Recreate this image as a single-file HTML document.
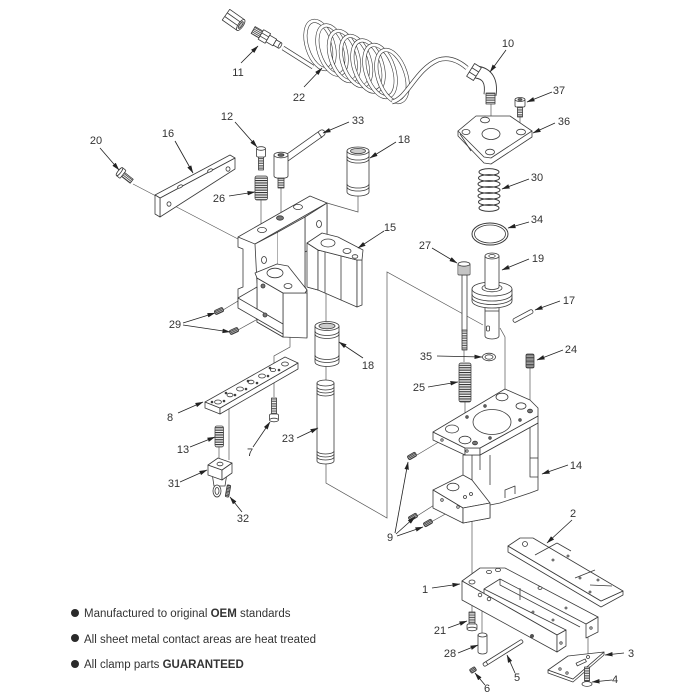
<!DOCTYPE html>
<html><head><meta charset="utf-8"><style>
html,body{margin:0;padding:0;background:#fff;}
svg{display:block}
text{font-family:"Liberation Sans",Arial,sans-serif;fill:#333;}
</style></head><body>
<svg width="700" height="700" viewBox="0 0 700 700" xmlns="http://www.w3.org/2000/svg">
<defs>
<marker id="ah" viewBox="0 0 10 10" refX="9.5" refY="5" markerWidth="8" markerHeight="8" orient="auto" markerUnits="userSpaceOnUse">
<path d="M0,2.2 L10,5 L0,7.8 z" fill="#222"/></marker>
<pattern id="th" width="6" height="1.7" patternUnits="userSpaceOnUse"><rect width="6" height="1.7" fill="#fff"/><rect width="6" height="0.8" fill="#444"/></pattern>
<pattern id="thd" width="6" height="1.4" patternUnits="userSpaceOnUse"><rect width="6" height="1.4" fill="#ddd"/><rect width="6" height="0.8" fill="#333"/></pattern>
<pattern id="spr" width="6" height="2.4" patternUnits="userSpaceOnUse"><rect width="6" height="2.4" fill="#f4f4f4"/><rect width="6" height="1.1" fill="#333"/></pattern>
</defs>
<rect width="700" height="700" fill="#fff"/>

<g fill="none" stroke="#555" stroke-width="0.7">
<path d="M169,203 L238,239"/>
<path d="M133,184 L156,196"/>
<path d="M261,200 L261,228"/>
<path d="M281,187 L281,216"/>
<path d="M358,193 L358,212 L327,203"/>
<path d="M326,293 L326,322"/>
<path d="M326,364 L326,380"/>
<path d="M326,463 L326,483 L387,518 L387,272 L483,325"/>
<path d="M290,336 L290,347 L274,356 L274,368"/>
<path d="M274,370 L274,397"/>
<path d="M229,409 L229,460"/>
<path d="M219,447 L219,459"/>
<path d="M223,310 L263,286"/>
<path d="M238,330 L265,315"/>
<path d="M491,104 L491,133"/>
<path d="M520,117 L520,133"/>
<path d="M465,402 L465,439"/>
<path d="M500,328 L505,337 L505,398"/>
<path d="M530,368 L530,406"/>
<path d="M472,520 L472,582"/>
<path d="M472,600 L472,612"/>
<path d="M482,603 L482,633"/>
<path d="M588,633 L588,657"/>
<path d="M587,659 L587,667"/>
<path d="M417,455 L442,440"/>
<path d="M417,516 L442,500"/>
<path d="M431,522 L458,507"/>
<path d="M464,350 L464,362"/>
</g>

<g fill="#fff" stroke="#3a3a3a" stroke-width="0.8" stroke-linejoin="round">

<g transform="translate(235,21) rotate(35)">
<rect x="-11" y="-6.5" width="18" height="13"/>
<line x1="-11" y1="-2.2" x2="7" y2="-2.2"/><line x1="-11" y1="2.2" x2="7" y2="2.2"/>
<ellipse cx="7" cy="0" rx="2.5" ry="6.5"/><ellipse cx="7" cy="0" rx="1.3" ry="4" fill="#bbb"/>
</g>
<g transform="translate(267,38) rotate(30)">
<rect x="-16" y="-4" width="9" height="8" fill="url(#th)"/>
<rect x="-7" y="-5.5" width="8" height="11"/>
<line x1="-7" y1="-1.8" x2="1" y2="-1.8"/><line x1="-7" y1="1.8" x2="1" y2="1.8"/>
<rect x="1" y="-3.8" width="8" height="7.6"/>
<rect x="9" y="-3" width="6" height="6"/>
<ellipse cx="15" cy="0" rx="1.2" ry="3"/>
</g>

<g fill="none">
<path d="M283,48 L313,67" stroke="#3a3a3a" stroke-width="4.6"/>
<path d="M283,48 L313,67" stroke="#fff" stroke-width="3.2"/>
<g stroke-width="4">
<ellipse cx="320" cy="45" rx="13" ry="25" transform="rotate(-18 320 45)" stroke="#3a3a3a"/>
<ellipse cx="320" cy="45" rx="13" ry="25" transform="rotate(-18 320 45)" stroke="#fff" stroke-width="2.8"/>
<ellipse cx="332" cy="50" rx="13" ry="25.5" transform="rotate(-18 332 50)" stroke="#3a3a3a"/>
<ellipse cx="332" cy="50" rx="13" ry="25.5" transform="rotate(-18 332 50)" stroke="#fff" stroke-width="2.8"/>
<ellipse cx="344" cy="56" rx="13.5" ry="26" transform="rotate(-18 344 56)" stroke="#3a3a3a"/>
<ellipse cx="344" cy="56" rx="13.5" ry="26" transform="rotate(-18 344 56)" stroke="#fff" stroke-width="2.8"/>
<ellipse cx="356" cy="61" rx="13.5" ry="26" transform="rotate(-18 356 61)" stroke="#3a3a3a"/>
<ellipse cx="356" cy="61" rx="13.5" ry="26" transform="rotate(-18 356 61)" stroke="#fff" stroke-width="2.8"/>
<ellipse cx="368" cy="66" rx="14" ry="26.5" transform="rotate(-18 368 66)" stroke="#3a3a3a"/>
<ellipse cx="368" cy="66" rx="14" ry="26.5" transform="rotate(-18 368 66)" stroke="#fff" stroke-width="2.8"/>
<ellipse cx="380" cy="71" rx="14" ry="27" transform="rotate(-18 380 71)" stroke="#3a3a3a"/>
<ellipse cx="380" cy="71" rx="14" ry="27" transform="rotate(-18 380 71)" stroke="#fff" stroke-width="2.8"/>
<ellipse cx="392" cy="76" rx="14" ry="27" transform="rotate(-18 392 76)" stroke="#3a3a3a"/>
<ellipse cx="392" cy="76" rx="14" ry="27" transform="rotate(-18 392 76)" stroke="#fff" stroke-width="2.8"/>
</g>
<path d="M392,102 C408,98 415,70 438,60 C450,56 460,62 467,68" stroke="#3a3a3a" stroke-width="4.6"/>
<path d="M392,102 C408,98 415,70 438,60 C450,56 460,62 467,68" stroke="#fff" stroke-width="3.2"/>
</g>

<path d="M476,72 Q493,74 490,95" fill="none" stroke="#3a3a3a" stroke-width="13"/>
<path d="M476,72 Q493,74 490,95" fill="none" stroke="#fff" stroke-width="11.2"/>
<g transform="translate(474,72) rotate(32)">
<rect x="-4" y="-7.5" width="8" height="15"/>
<line x1="-4" y1="-2.5" x2="4" y2="-2.5"/><line x1="-4" y1="2.5" x2="4" y2="2.5"/>
</g>
<rect x="486" y="93" width="9" height="11" fill="url(#th)"/>

<rect x="515" y="99" width="10" height="8" rx="1.5"/>
<ellipse cx="520" cy="99.5" rx="5" ry="2"/>
<ellipse cx="520" cy="99.5" rx="2" ry="1" fill="#666"/>
<rect x="517.5" y="107" width="5" height="10" fill="url(#th)"/>

<path d="M458,131 L458,136 L484,163 L491,164 L532,137 L532,131 Z"/>
<path d="M458,131 L476,116 L510,116 L532,131 L491,158 L484,157 Z"/>
<path d="M460,134 L471,151" fill="none"/>
<ellipse cx="485" cy="120" rx="4.5" ry="2.8"/>
<ellipse cx="521" cy="132" rx="4.5" ry="2.8"/>
<ellipse cx="490" cy="152" rx="4.5" ry="2.8"/>
<ellipse cx="466" cy="132" rx="4" ry="2.6"/>
<ellipse cx="491" cy="134" rx="9" ry="5.5"/>

<g fill="none" stroke="#3a3a3a" stroke-width="1">
<ellipse cx="489" cy="172" rx="10" ry="3.4"/>
<ellipse cx="489" cy="178" rx="10.5" ry="3.4"/>
<ellipse cx="489" cy="184" rx="11" ry="3.4"/>
<ellipse cx="489" cy="190" rx="11" ry="3.4"/>
<ellipse cx="489" cy="196" rx="11" ry="3.4"/>
<ellipse cx="489" cy="202" rx="10.5" ry="3.4"/>
<ellipse cx="489" cy="208" rx="10" ry="3.4"/>
</g>

<ellipse cx="490" cy="234" rx="18" ry="11" fill="none" stroke-width="1"/>
<ellipse cx="490" cy="234" rx="15.5" ry="9" fill="none"/>

<path d="M485,305 L485,336 A7,3 0 0 0 499,336 L499,305 Z"/>
<line x1="485" y1="311" x2="499" y2="311"/>
<rect x="486.5" y="326" width="3" height="5" rx="1"/>
<path d="M472,289 L472,301 A20,7 0 0 0 512,301 L512,289 Z"/>
<path d="M472,294 A20,7 0 0 0 512,294" fill="none"/>
<path d="M472,297.5 A20,7 0 0 0 512,297.5" fill="none"/>
<ellipse cx="492" cy="289" rx="20" ry="7"/>
<ellipse cx="492" cy="288" rx="10" ry="3.8"/>
<path d="M485,256 L485,287 A7,2.5 0 0 0 499,287 L499,256 Z"/>
<ellipse cx="492" cy="256" rx="7" ry="3"/>
<ellipse cx="492" cy="256" rx="3.2" ry="1.5"/>

<g transform="translate(523,316) rotate(-28)">
<rect x="-11" y="-2" width="22" height="4" rx="1.8"/>
</g>

<rect x="462" y="275" width="5" height="56"/>
<rect x="462" y="330" width="5" height="20" fill="url(#th)"/>
<rect x="458" y="264" width="12" height="11" rx="1"/>
<ellipse cx="464" cy="264" rx="6" ry="2.2"/>
<g stroke-width="0.6"><line x1="460" y1="266" x2="460" y2="275"/><line x1="462" y1="266" x2="462" y2="275"/><line x1="464" y1="266" x2="464" y2="275"/><line x1="466" y1="266" x2="466" y2="275"/><line x1="468" y1="266" x2="468" y2="275"/></g>

<ellipse cx="489" cy="357" rx="6.5" ry="3.8"/>
<ellipse cx="489" cy="357" rx="4" ry="2.2"/>

<rect x="459" y="363" width="12" height="39" rx="2" fill="url(#spr)" stroke="#444"/>

<rect x="526" y="354" width="8" height="14" rx="1.5" fill="url(#thd)"/>

<path d="M480,455 L538,423 L538,490 L530,493 L500,503 L490,505 L490,518 L463,523 L463,455 Z"/>
<path d="M530,423 L530,477 L538,477" fill="none"/>
<path d="M530,458 L538,458" fill="none"/>
<path d="M472,455 L472,480 M480,455 L480,470 M490,455 L490,485" fill="none"/>
<path d="M505,498 L505,490 L515,486 L515,494" fill="none"/>
<path d="M433,490 L463,475 L472,480 L490,503 L463,508 Z"/>
<path d="M433,490 L463,508 L463,523 L433,508 Z"/>
<path d="M463,508 L490,503 L490,518 L463,523 Z"/>
<ellipse cx="453" cy="487" rx="6" ry="3.8"/>
<circle cx="465" cy="497" r="1.5"/><circle cx="471" cy="494" r="1.5"/>
<circle cx="442" cy="500" r="1.3"/><circle cx="458" cy="507" r="1.3"/>
<path d="M433,432 L465,448 L465,455 L433,440 Z"/>
<path d="M465,448 L480,448 L480,455 L465,455 Z"/>
<path d="M480,448 L538,416 L538,423 L480,455 Z"/>
<path d="M433,432 L505,389 L530,400 L538,408 L538,416 L480,448 L465,448 Z"/>
<ellipse cx="492" cy="422" rx="19" ry="12.5"/>
<ellipse cx="452" cy="429" rx="6.5" ry="4"/>
<ellipse cx="465" cy="440" rx="6" ry="3.8"/>
<ellipse cx="502" cy="397" rx="6" ry="3.8"/>
<ellipse cx="521" cy="406" rx="5" ry="3.2"/>
<ellipse cx="530" cy="411" rx="2.5" ry="1.8" fill="#777"/>
<ellipse cx="475" cy="443" rx="2.5" ry="1.8" fill="#777"/>
<circle cx="485" cy="406" r="1.3" fill="#777"/>
<circle cx="467" cy="417" r="1.3" fill="#777"/>
<circle cx="520" cy="420" r="1.3" fill="#777"/>
<circle cx="490" cy="438" r="1.3" fill="#777"/>
<circle cx="442" cy="440" r="1.2"/>
<circle cx="467" cy="451" r="1.2"/>

<g transform="translate(412,456) rotate(-30)"><rect x="-4.5" y="-2.2" width="9" height="4.4" rx="1.5" fill="url(#thd)"/></g>
<g transform="translate(413,517) rotate(-30)"><rect x="-4.5" y="-2.2" width="9" height="4.4" rx="1.5" fill="url(#thd)"/></g>
<g transform="translate(428,523) rotate(-30)"><rect x="-4.5" y="-2.2" width="9" height="4.4" rx="1.5" fill="url(#thd)"/></g>

<path d="M508,546 L508,552 L601,607 L623,595 L623,591 L601,601 Z"/>
<path d="M508,546 L520,538 L533,538 L623,591 L601,601 Z"/>
<circle cx="525" cy="544" r="2.5"/>
<path d="M535,555 L557,543 M557,543 L571,551 M575,578 L595,570 M590,585 L612,586" fill="none"/>
<circle cx="553" cy="560" r="1"/><circle cx="568" cy="556" r="1"/><circle cx="580" cy="578" r="1"/><circle cx="598" cy="580" r="1"/><circle cx="590" cy="592" r="1"/>

<path d="M586,624 L598,617 L598,632 L586,638 Z"/>
<path d="M462,581 L480,568 L505,568 L598,617 L586,624 L500,579 L484,589 L566,630 L557,635 Z"/>
<path d="M500,579 L500,585 L580,627 M484,589 L484,595" fill="none"/>
<path d="M462,581 L557,635 L557,652 L462,600 Z"/>
<path d="M557,635 L566,630 L566,646 L557,652 Z"/>
<ellipse cx="472" cy="582" rx="3" ry="2"/>
<ellipse cx="489" cy="572" rx="2.5" ry="1.6"/>
<ellipse cx="498" cy="570" rx="2.5" ry="1.6"/>
<ellipse cx="540" cy="588" rx="2" ry="1.4"/>
<circle cx="480" cy="595" r="1.8"/><circle cx="489" cy="599" r="1.8"/>
<circle cx="561" cy="643" r="1.2"/><circle cx="591" cy="628" r="1.2"/>
<circle cx="533" cy="612" r="1"/><circle cx="553" cy="620" r="1"/><circle cx="566" cy="608" r="1"/>
<line x1="520" y1="588" x2="520" y2="600"/>

<rect x="469" y="612" width="6" height="12" fill="url(#th)"/>
<rect x="467" y="624" width="10" height="5" rx="1.5"/>
<ellipse cx="472" cy="629" rx="5" ry="1.8"/>
<path d="M478,635 L478,652 A4.5,2 0 0 0 487,652 L487,635 Z"/>
<ellipse cx="482.5" cy="635" rx="4.5" ry="2"/>
<g transform="translate(503,653) rotate(-32)"><rect x="-23" y="-1.8" width="46" height="3.6" rx="1.5"/><line x1="-19" y1="-1.8" x2="-19" y2="1.8"/></g>
<circle cx="532" cy="636" r="1.5" fill="#555"/>
<g transform="translate(473,670) rotate(-32)"><rect x="-3" y="-2.2" width="6" height="4.4" rx="1.2" fill="url(#thd)"/></g>
<path d="M548,670 L548,673 L573,682 L604,655 L604,652 L573,679 Z"/>
<path d="M548,670 L568,656 L604,652 L573,679 Z"/>
<circle cx="588" cy="657" r="1.5"/><circle cx="560" cy="669" r="1.2"/><circle cx="567" cy="673" r="1.2"/>
<rect x="576" y="661" width="10" height="3" transform="rotate(-25 581 662)"/>
<rect x="584.5" y="667" width="5" height="14" fill="url(#th)"/>
<ellipse cx="587" cy="684" rx="5" ry="2.4"/>

<path d="M160,198 L235,158 L235,169 L160,217 Z"/>
<path d="M155,195 L230,155 L235,158 L160,198 Z"/>
<path d="M155,195 L160,198 L160,217 L155,214 Z"/>
<ellipse cx="169" cy="204" rx="2" ry="2.2"/>
<ellipse cx="228" cy="169" rx="2" ry="2.2"/>
<ellipse cx="180" cy="186.5" rx="2.6" ry="1.3" transform="rotate(-28 180 186.5)"/>
<ellipse cx="210" cy="170.5" rx="2.6" ry="1.3" transform="rotate(-28 210 170.5)"/>

<g transform="translate(125,176) rotate(38)">
<rect x="-2.5" y="-2.5" width="11" height="5" fill="url(#th)"/>
<rect x="-7" y="-5" width="4.5" height="10" rx="1"/>
<ellipse cx="-7" cy="0" rx="1.5" ry="5"/>
</g>

<rect x="258.5" y="157" width="5" height="13" fill="url(#th)"/>
<rect x="256.5" y="148" width="9" height="9" rx="1.5"/>
<ellipse cx="261" cy="148.5" rx="4.5" ry="1.8"/>
<rect x="255" y="176" width="12.5" height="24" rx="2" fill="url(#spr)" stroke="#444"/>

<path d="M284,160 L322,133" fill="none" stroke="#3a3a3a" stroke-width="7" stroke-linecap="round"/>
<path d="M284,160 L322,133" fill="none" stroke="#fff" stroke-width="5.4" stroke-linecap="round"/>
<line x1="318" y1="132" x2="322" y2="138"/>
<path d="M274,155 L274,176 A7,2.5 0 0 0 288,176 L288,155 Z"/>
<ellipse cx="281" cy="155" rx="7" ry="2.8"/>
<ellipse cx="281" cy="155" rx="3" ry="1.3" fill="#666"/>
<rect x="278" y="178" width="6" height="10" fill="url(#th)"/>

<path d="M347,151 L347,192 A11,4 0 0 0 369,192 L369,151 Z"/>
<path d="M347,156 A11,4 0 0 0 369,156 M347,159 A11,4 0 0 0 369,159 M347,184 A11,4 0 0 0 369,184 M347,187 A11,4 0 0 0 369,187" fill="none"/>
<ellipse cx="358" cy="151" rx="11" ry="4"/>
<ellipse cx="358" cy="151" rx="7.5" ry="2.6" fill="#ccc"/>

<path d="M238,237 L238,247 L243,249 L243,287 L238,289 L238,298 L283,324 L283,337 L307,337 L307,290 L305,287 L305,217 L327,205 L327,235 L318,250 L318,290 L307,287" fill="none"/>
<path d="M238,237 L310,196 L327,203 L255,244 Z"/>
<path d="M255,244 L278,232 L278,273 L257,283 Z"/>
<path d="M305,217 L327,203 L327,240 L305,252 Z"/>
<path d="M278,232 L305,217 L305,287 L278,273"/>
<ellipse cx="262" cy="230" rx="4.5" ry="2.6"/>
<ellipse cx="280" cy="218" rx="3.5" ry="2.2" fill="#777"/>
<ellipse cx="298" cy="207" rx="4.5" ry="2.6"/>
<ellipse cx="264" cy="260" rx="2.5" ry="3.5"/>
<ellipse cx="319" cy="224" rx="2.5" ry="3.5"/>
<path d="M283,293 L307,293 L307,338 L283,337 Z"/>
<path d="M257,278 L283,293 L283,337 L257,322 Z"/>
<path d="M255,273 L277,264 L288,266 L307,290 L305,293 L283,293 L257,278 Z"/>
<ellipse cx="275" cy="273" rx="8" ry="4.8"/>
<ellipse cx="288" cy="286" rx="4" ry="2.5"/>
<path d="M238,298 L257,287 L257,322 L283,337 L283,330 L238,305 Z"/>
<path d="M238,298 L283,324 L283,334 L238,308 Z"/>
<circle cx="263" cy="286" r="2" fill="#777"/>
<circle cx="265" cy="315" r="2" fill="#777"/>
<path d="M307,243 L318,250 L318,290 L307,287 Z"/>
<path d="M318,250 L357,260 L357,307 L318,290 Z"/>
<path d="M357,260 L362,260 L362,305 L357,307 Z"/>
<path d="M307,243 L322,233 L338,237 L363,250 L362,260 L357,260 L318,250 Z"/>
<line x1="325" y1="252" x2="325" y2="293"/>
<line x1="341" y1="256" x2="341" y2="300"/>
<ellipse cx="328" cy="243" rx="7" ry="4"/>
<ellipse cx="347" cy="251" rx="4" ry="2.5"/>
<ellipse cx="355" cy="256.5" rx="2.8" ry="1.8"/>

<g transform="translate(219,311) rotate(-25)"><rect x="-4.5" y="-2.2" width="9" height="4.4" rx="1.5" fill="url(#thd)"/></g>
<g transform="translate(234,331) rotate(-25)"><rect x="-4.5" y="-2.2" width="9" height="4.4" rx="1.5" fill="url(#thd)"/></g>

<path d="M315,326 L315,362 A12,4.5 0 0 0 339,362 L339,326 Z"/>
<path d="M315,331 A12,4.5 0 0 0 339,331 M315,334 A12,4.5 0 0 0 339,334 M315,355 A12,4.5 0 0 0 339,355 M315,358 A12,4.5 0 0 0 339,358" fill="none"/>
<ellipse cx="327" cy="326" rx="12" ry="4.5"/>
<ellipse cx="327" cy="326" rx="8" ry="2.8" fill="#ccc"/>

<path d="M317,383 L317,461 A8.5,3 0 0 0 334,461 L334,383 Z"/>
<path d="M317,387 A8.5,3 0 0 0 334,387 M317,390 A8.5,3 0 0 0 334,390 M317,393 A8.5,3 0 0 0 334,393 M317,451 A8.5,3 0 0 0 334,451 M317,454 A8.5,3 0 0 0 334,454 M317,457 A8.5,3 0 0 0 334,457" fill="none"/>
<ellipse cx="325.5" cy="383" rx="8.5" ry="3"/>

<path d="M205,402 L220,408 L220,414 L205,408 Z"/>
<path d="M220,408 L298,363 L298,369 L220,414 Z"/>
<path d="M205,402 L285,357 L298,363 L220,408 Z"/>
<ellipse cx="218" cy="402" rx="3.4" ry="2"/>
<ellipse cx="230" cy="395" rx="3" ry="1.8"/>
<ellipse cx="240" cy="389" rx="3.4" ry="2"/>
<ellipse cx="251" cy="382" rx="3" ry="1.8"/>
<ellipse cx="262" cy="376" rx="3.4" ry="2"/>
<ellipse cx="273" cy="370" rx="2.6" ry="1.6"/>
<ellipse cx="285" cy="364" rx="3.4" ry="2"/>
<circle cx="224" cy="401" r="0.9" fill="#555"/><circle cx="235" cy="395" r="0.9" fill="#555"/><circle cx="246" cy="389" r="0.9" fill="#555"/><circle cx="257" cy="383" r="0.9" fill="#555"/><circle cx="268" cy="376" r="0.9" fill="#555"/><circle cx="279" cy="370" r="0.9" fill="#555"/><circle cx="212" cy="402" r="0.9" fill="#555"/><circle cx="226" cy="393" r="0.9" fill="#555"/><circle cx="248" cy="381" r="0.9" fill="#555"/><circle cx="270" cy="368" r="0.9" fill="#555"/>

<rect x="271.5" y="398" width="5" height="16" fill="url(#th)"/>
<rect x="269.5" y="414" width="9" height="6" rx="1.5"/>
<ellipse cx="274" cy="420" rx="4.5" ry="1.8"/>

<rect x="215" y="426" width="8.5" height="21" rx="2" fill="url(#spr)" stroke="#444"/>

<path d="M212,473 L227,473 L225,486 L214,486 Z"/>
<ellipse cx="217" cy="491" rx="4" ry="6"/>
<ellipse cx="217" cy="491" rx="2" ry="3.5"/>
<path d="M208,465 L222,470 L222,480 L208,475 Z"/>
<path d="M222,470 L232,463 L232,473 L222,480 Z"/>
<path d="M208,465 L218,458 L232,463 L222,470 Z"/>
<ellipse cx="220" cy="464" rx="3" ry="1.8"/>
<g transform="translate(228,491) rotate(10)"><rect x="-1.8" y="-6" width="3.6" height="12" rx="1" fill="url(#thd)"/></g>
</g>

<g stroke="#222" stroke-width="0.8" fill="none" marker-end="url(#ah)">
<path d="M241,63 L258,46"/>
<path d="M304,87 L322,68"/>
<path d="M506,50 L490,72"/>
<path d="M552,92 L527,102"/>
<path d="M555,123 L533,133"/>
<path d="M349,122 L323,133"/>
<path d="M235,122 L257,147"/>
<path d="M175,141 L193,173"/>
<path d="M100,148 L119,170"/>
<path d="M396,142 L370,158"/>
<path d="M529,179 L502,189"/>
<path d="M229,196 L255,192"/>
<path d="M529,222 L508,228"/>
<path d="M384,231 L358,248"/>
<path d="M432,248 L457,263"/>
<path d="M529,259 L502,270"/>
<path d="M560,301 L535,310"/>
<path d="M183,323 L215,313"/>
<path d="M183,325 L230,332"/>
<path d="M437,356 L482,357"/>
<path d="M563,350 L537,360"/>
<path d="M363,358 L339,342"/>
<path d="M428,387 L458,382"/>
<path d="M178,413 L203,402"/>
<path d="M253,447 L270,422"/>
<path d="M190,447 L215,437"/>
<path d="M297,438 L318,428"/>
<path d="M568,465 L542,474"/>
<path d="M180,482 L207,470"/>
<path d="M242,512 L230,497"/>
<path d="M572,520 L547,543"/>
<path d="M395,533 L408,462"/>
<path d="M396,534 L415,517"/>
<path d="M397,536 L423,527"/>
<path d="M432,588 L460,584"/>
<path d="M448,628 L467,621"/>
<path d="M458,653 L478,645"/>
<path d="M624,653 L605,655"/>
<path d="M515,673 L507,655"/>
<path d="M612,680 L592,682"/>
<path d="M485,685 L475,673"/>
</g>

<g font-size="11" text-anchor="middle">
<text x="238" y="76">11</text>
<text x="299" y="101">22</text>
<text x="508" y="47">10</text>
<text x="559" y="94">37</text>
<text x="564" y="125">36</text>
<text x="358" y="124">33</text>
<text x="227" y="120">12</text>
<text x="168" y="137">16</text>
<text x="96" y="144">20</text>
<text x="404" y="143">18</text>
<text x="537" y="181">30</text>
<text x="219" y="202">26</text>
<text x="537" y="223">34</text>
<text x="390" y="231">15</text>
<text x="425" y="249">27</text>
<text x="538" y="262">19</text>
<text x="569" y="304">17</text>
<text x="175" y="328">29</text>
<text x="426" y="360">35</text>
<text x="571" y="353">24</text>
<text x="368" y="369">18</text>
<text x="419" y="391">25</text>
<text x="170" y="421">8</text>
<text x="183" y="453">13</text>
<text x="250" y="456">7</text>
<text x="288" y="442">23</text>
<text x="576" y="469">14</text>
<text x="174" y="487">31</text>
<text x="243" y="522">32</text>
<text x="573" y="517">2</text>
<text x="390" y="541">9</text>
<text x="425" y="593">1</text>
<text x="440" y="634">21</text>
<text x="450" y="657">28</text>
<text x="631" y="657">3</text>
<text x="517" y="681">5</text>
<text x="615" y="683">4</text>
<text x="487" y="692">6</text>
</g>

<g fill="#2a2a2a">
<circle cx="75" cy="613" r="4"/>
<circle cx="75" cy="638" r="4"/>
<circle cx="75" cy="664" r="4"/>
</g>
<g font-size="11.5" fill="#333">
<text x="84" y="617">Manufactured to original <tspan font-weight="bold">OEM</tspan> standards</text>
<text x="84" y="643">All sheet metal contact areas are heat treated</text>
<text x="84" y="668">All clamp parts <tspan font-weight="bold">GUARANTEED</tspan></text>
</g>
</svg>
</body></html>
